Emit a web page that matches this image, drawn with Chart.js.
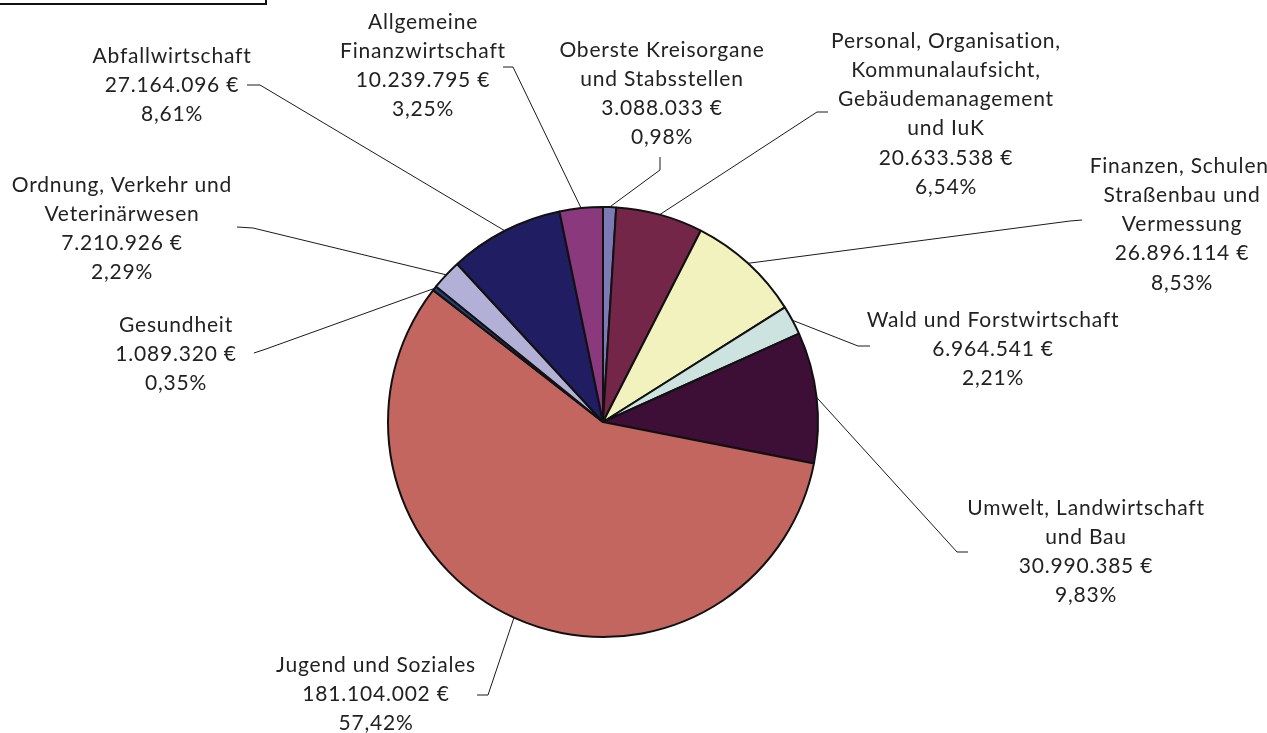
<!DOCTYPE html>
<html>
<head>
<meta charset="utf-8">
<script src="https://cdn.jsdelivr.net/npm/chart.js@4/dist/chart.umd.min.js"></script>
<style>
    body { margin: 0; background: #fff; }
    #wrap { position: relative; width: 1267px; height: 733px; overflow: hidden; }
    #topBox { position: absolute; left: -3px; top: -30px; width: 266px; height: 31px; border: 2px solid #111; }
</style>
</head>
<body>
<div id="wrap">
    <canvas id="pieChart" width="1267" height="733"></canvas>
    <div id="topBox"></div>
</div>
<script>
// ----------------------------------------
// Data
// ----------------------------------------

const categories = [
    ["Oberste Kreisorgane", "und Stabsstellen"],
    ["Personal, Organisation,", "Kommunalaufsicht,", "Gebäudemanagement", "und IuK"],
    ["Finanzen, Schulen,", "Straßenbau und", "Vermessung"],
    ["Wald und Forstwirtschaft"],
    ["Umwelt, Landwirtschaft", "und Bau"],
    ["Jugend und Soziales"],
    ["Gesundheit"],
    ["Ordnung, Verkehr und", "Veterinärwesen"],
    ["Abfallwirtschaft"],
    ["Allgemeine", "Finanzwirtschaft"]
];

const amounts = [3088033, 20633538, 26896114, 6964541, 30990385, 181104002, 1089320, 7210926, 27164096, 10239795];

const sliceColors = ["#7b7ab5", "#732648", "#f2f2bf", "#cde3df", "#3d0e36", "#c3665f", "#24407a", "#b2b0d6", "#201d62", "#8a397d"];

// label layout: centre x, first line y, elbow point, end point at the label
const labelLayout = [
    { cx: 662, y: 50,  elbow: [660, 170], end: [660, 157] },
    { cx: 946, y: 41,  elbow: [817, 112], end: [828, 112] },
    { cx: 1182, y: 166, elbow: [1070, 221], end: [1082, 220] },
    { cx: 993, y: 320, elbow: [858, 346], end: [870, 346] },
    { cx: 1086, y: 508, elbow: [957, 552], end: [968, 552] },
    { cx: 376, y: 665, elbow: [488, 695], end: [477, 695] },
    { cx: 176, y: 325, elbow: [266, 349], end: [254, 353] },
    { cx: 122, y: 185, elbow: [253, 228], end: [237, 227] },
    { cx: 172, y: 56,  elbow: [260, 85],  end: [247, 85] },
    { cx: 423, y: 22,  elbow: [513, 67],  end: [503, 67] }
];

const LINE_HEIGHT = 29.2;
const LABEL_FONT = "21px Lato";

function formatEuro(n) {
    return String(n).replace(/\B(?=(\d{3})+(?!\d))/g, ".") + " €";
}

function formatPercent(v, total) {
    return (v / total * 100).toFixed(2).replace(".", ",") + "%";
}

// ----------------------------------------
// Label plugin (text + leader lines)
// ----------------------------------------

const pieLabels = {
    id: "pieLabels",
    afterDatasetsDraw(chart) {
        const ctx = chart.ctx;
        const meta = chart.getDatasetMeta(0);
        const total = amounts.reduce((a, b) => a + b, 0);

        ctx.save();
        meta.data.forEach((arc, i) => {
            const p = arc.getProps(["x", "y", "startAngle", "endAngle", "outerRadius"], true);
            const mid = (p.startAngle + p.endAngle) / 2;
            const ax = p.x + Math.cos(mid) * p.outerRadius;
            const ay = p.y + Math.sin(mid) * p.outerRadius;
            const lay = labelLayout[i];

            ctx.strokeStyle = "#1a1a1a";
            ctx.lineWidth = 1;
            ctx.beginPath();
            ctx.moveTo(ax, ay);
            ctx.lineTo(lay.elbow[0], lay.elbow[1]);
            ctx.lineTo(lay.end[0], lay.end[1]);
            ctx.stroke();

            const lines = categories[i].concat([formatEuro(amounts[i]), formatPercent(amounts[i], total)]);
            ctx.fillStyle = "#222";
            ctx.font = LABEL_FONT;
            ctx.letterSpacing = "0.8px";
            ctx.textAlign = "center";
            ctx.textBaseline = "middle";
            lines.forEach((t, k) => {
                ctx.fillText(t, lay.cx, lay.y + k * LINE_HEIGHT);
            });
        });
        ctx.restore();
    }
};

// ----------------------------------------
// Chart
// ----------------------------------------

document.addEventListener("DOMContentLoaded", function () {
    const canvas = document.getElementById("pieChart");
    new Chart(canvas, {
        type: "pie",
        data: {
            labels: categories.map((c) => c.join(" ")),
            datasets: [
                {
                    data: amounts,
                    backgroundColor: sliceColors,
                    borderColor: "#111",
                    borderWidth: 2
                }
            ]
        },
        options: {
            responsive: false,
            animation: false,
            devicePixelRatio: 1,
            layout: { padding: { left: 387, right: 448, top: 206, bottom: 95 } },
            plugins: {
                legend: { display: false },
                tooltip: { enabled: false }
            }
        },
        plugins: [pieLabels]
    });
});
</script>
</body>
</html>
